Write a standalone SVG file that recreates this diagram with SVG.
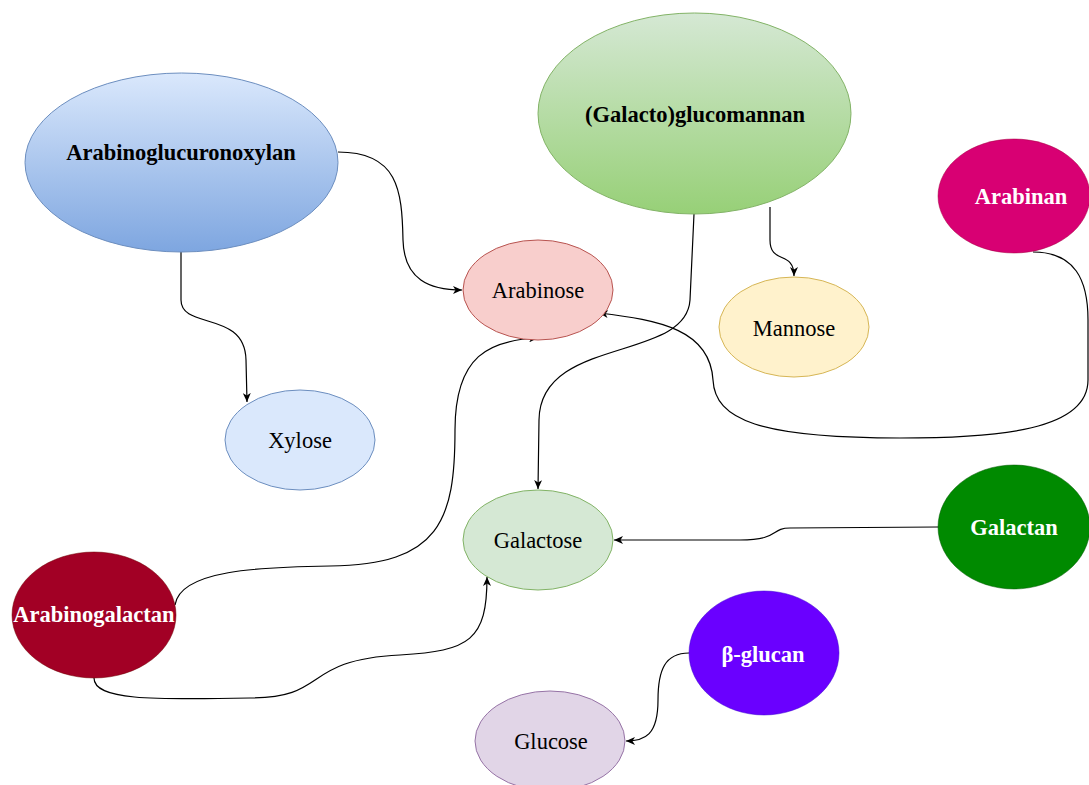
<svg xmlns="http://www.w3.org/2000/svg" width="1089" height="785" viewBox="0 0 1089 785">
<defs>
<linearGradient id="gBlue" x1="0" y1="0" x2="0" y2="1"><stop offset="0" stop-color="#dae8fc"/><stop offset="1" stop-color="#7ea6e0"/></linearGradient>
<linearGradient id="gGreen" x1="0" y1="0" x2="0" y2="1"><stop offset="0" stop-color="#d5e8d4"/><stop offset="1" stop-color="#97d077"/></linearGradient>
<marker id="arr" markerWidth="10" markerHeight="8" refX="9" refY="4" orient="auto" markerUnits="userSpaceOnUse"><path d="M0,0 L9,4 L0,8 L2.5,4 Z" fill="#000"/></marker>
<style>
.b{font-family:"Liberation Serif","Times New Roman",serif;font-size:22.5px;font-weight:bold;text-anchor:middle}
.r{font-family:"Liberation Serif","Times New Roman",serif;font-size:22.5px;text-anchor:middle;fill:#000}
.w{fill:#fff}
.e{fill:none;stroke:#000;stroke-width:1.2;marker-end:url(#arr)}
</style>
</defs>
<g id="connectors">
<path class="e" d="M338 152 C398 152 402 190 403 240 C404 280 430 290 462 290"/>
<path class="e" d="M181 252 L181 300 C181 330 245 310 246 360 L247 402"/>
<path class="e" d="M770 207 L770 240 C770 265 794 250 794 276"/>
<path class="e" d="M694 214 L690 300 C686 362 540 336 539 420 L538 489"/>
<path class="e" d="M1033 252 C1075 252 1088 280 1088 320 L1088 380 C1088 430 1000 438 900 438 C760 438 715 420 713 380 C710 330 660 320 599 313"/>
<path class="e" d="M175 605 C180 570 260 567 330 566 C440 565 455 520 455 430 C455 355 490 340 538 338"/>
<path class="e" d="M94 678 C94 700 150 700 250 698 C330 698 300 660 400 655 C470 651 487 640 487 577"/>
<path class="e" d="M938 527 L790 528 C770 528 780 540 740 540 L614 540"/>
<path class="e" d="M689 653 C665 653 658 670 658 700 C658 735 645 741 626 741"/>
</g>
<g id="arabinoglucuronoxylan"><ellipse cx="181.5" cy="162.5" rx="156.5" ry="89.5" fill="url(#gBlue)" stroke="#6c8ebf"/><text class="b" x="181" y="160">Arabinoglucuronoxylan</text></g>
<g id="galactoglucomannan"><ellipse cx="694.5" cy="113.5" rx="156.5" ry="100.5" fill="url(#gGreen)" stroke="#82b366"/><text class="b" x="695" y="122">(Galacto)glucomannan</text></g>
<g id="arabinose"><ellipse cx="538" cy="290" rx="75" ry="50" fill="#f8cecc" stroke="#b85450"/><text class="r" x="538" y="298">Arabinose</text></g>
<g id="mannose"><ellipse cx="794" cy="327" rx="75" ry="50" fill="#fff2cc" stroke="#d6b656"/><text class="r" x="794" y="336">Mannose</text></g>
<g id="xylose"><ellipse cx="300" cy="440" rx="75" ry="50" fill="#dae8fc" stroke="#6c8ebf"/><text class="r" x="300" y="448">Xylose</text></g>
<g id="galactose"><ellipse cx="538" cy="540" rx="75" ry="50" fill="#d5e8d4" stroke="#82b366"/><text class="r" x="538" y="548">Galactose</text></g>
<g id="glucose"><ellipse cx="550" cy="741" rx="75" ry="50" fill="#e1d5e7" stroke="#9673a6"/><text class="r" x="551" y="749">Glucose</text></g>
<g id="arabinan"><ellipse cx="1014" cy="196" rx="76" ry="57" fill="#d80073" stroke="#a50040" stroke-width="0.5"/><text class="b w" x="1021" y="204">Arabinan</text></g>
<g id="galactan"><ellipse cx="1014" cy="527" rx="76" ry="62" fill="#008a00" stroke="#005700" stroke-width="0.5"/><text class="b w" x="1014" y="535">Galactan</text></g>
<g id="arabinogalactan"><ellipse cx="94" cy="615" rx="82" ry="63" fill="#a20025" stroke="#6f0000" stroke-width="0.5"/><text class="b w" x="94" y="622">Arabinogalactan</text></g>
<g id="beta-glucan"><ellipse cx="764" cy="653" rx="75" ry="62" fill="#6a00ff" stroke="#3700cc" stroke-width="0.5"/><text class="b w" x="763" y="662">β-glucan</text></g>
</svg>
